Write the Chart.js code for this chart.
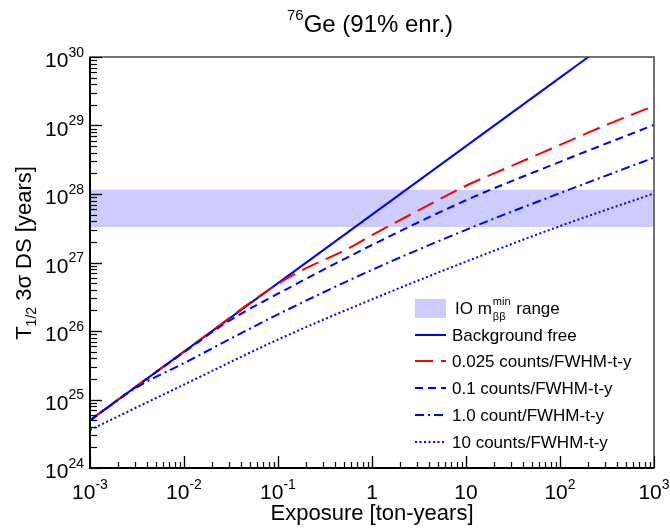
<!DOCTYPE html>
<html>
<head>
<meta charset="utf-8">
<script src="https://cdn.jsdelivr.net/npm/chart.js@4.4.1/dist/chart.umd.min.js"></script>
<style>
  html, body { margin: 0; padding: 0; background: #fff; }
  #wrap { width: 670px; height: 528px; }
</style>
</head>
<body>
<div id="wrap"><canvas id="chart" width="670" height="528"></canvas></div>
<script>
// exposure in ton-years, half-life sensitivity in years
const bgFreeX = [0.001, 0.01, 0.1, 1, 10, 100, 208];
const bgFreeY = [5.0e24, 5.0e25, 5.0e26, 5.0e27, 5.0e28, 5.0e29, 1.04e30];

const bg0025X = [0.001, 0.01, 0.1, 0.2, 0.5, 1, 3, 10, 30, 100, 300, 1000];
const bg0025Y = [5.0e24, 5.0e25, 4.9e26, 8.3e26, 1.48e27, 2.5e27, 5.6e27, 1.32e28, 2.55e28, 5.2e28, 1.0e29, 1.93e29];

const bg01X = [0.001, 0.01, 0.03, 0.1, 1, 10, 100, 1000];
const bg01Y = [5.0e24, 4.9e25, 1.4e26, 3.5e26, 1.8e27, 8.1e27, 2.95e28, 1.02e29];

const bg1X = [0.001, 0.003, 0.01, 0.1, 1, 10, 100, 1000];
const bg1Y = [4.9e24, 1.45e25, 3.4e25, 1.75e26, 7.8e26, 3.0e27, 1.03e28, 3.4e28];

const bg10X = [0.001, 0.01, 0.1, 1, 10, 100, 1000];
const bg10Y = [3.6e24, 1.65e25, 7.5e25, 2.9e26, 1.03e27, 3.4e27, 1.02e28];

// IO m_bb^min band
const bandLow = 3.3e27;
const bandHigh = 1.15e28;

const xTicks = [1e-3, 1e-2, 1e-1, 1, 10, 100, 1000];
const xTickLabels = [['10', '-3'], ['10', '-2'], ['10', '-1'], ['1', ''], ['10', ''], ['10', '2'], ['10', '3']];
const yTicks = [1e24, 1e25, 1e26, 1e27, 1e28, 1e29, 1e30];
const yTickLabels = [['10', '24'], ['10', '25'], ['10', '26'], ['10', '27'], ['10', '28'], ['10', '29'], ['10', '30']];

const seriesNames = ['Background free', '0.025 counts/FWHM-t-y', '0.1 counts/FWHM-t-y', '1.0 count/FWHM-t-y', '10 counts/FWHM-t-y'];

const FONT = '"Liberation Sans", Arial, Helvetica, sans-serif';
const BLUE = '#0000ff';
const RED = '#ff0000';
const BAND = 'rgb(204,204,255)';

function pts(xs, ys) {
  return xs.map((x, i) => ({ x: x, y: ys[i] }));
}

function line(label, xs, ys, color, dash, order) {
  return {
    label: label,
    data: pts(xs, ys),
    borderColor: color,
    borderWidth: 2,
    borderDash: dash,
    pointRadius: 0,
    fill: false,
    cubicInterpolationMode: 'monotone',
    order: order
  };
}

const datasets = [
  line(seriesNames[4], bg10X, bg10Y, BLUE, [2, 2.5], 1),
  line(seriesNames[3], bg1X, bg1Y, BLUE, [9, 4, 2, 4], 2),
  line(seriesNames[2], bg01X, bg01Y, BLUE, [8, 5], 3),
  line(seriesNames[1], bg0025X, bg0025Y, RED, [18, 8], 4),
  line(seriesNames[0], bgFreeX, bgFreeY, BLUE, [], 5),
  {
    label: 'band high',
    data: pts([1e-3, 1e3], [bandHigh, bandHigh]),
    borderWidth: 0,
    pointRadius: 0,
    backgroundColor: BAND,
    fill: '+1',
    order: 10
  },
  {
    label: 'band low',
    data: pts([1e-3, 1e3], [bandLow, bandLow]),
    borderWidth: 0,
    pointRadius: 0,
    fill: false,
    order: 11
  }
];

// text with a raised exponent
function powText(ctx, base, exp, x, y, size, align) {
  ctx.font = size + 'px ' + FONT;
  const bw = ctx.measureText(base).width;
  const es = Math.round(size * 0.68);
  ctx.font = es + 'px ' + FONT;
  const ew = exp ? ctx.measureText(exp).width : 0;
  const total = bw + ew;
  let x0 = x;
  if (align === 'center') x0 = x - total / 2;
  if (align === 'right') x0 = x - total;
  ctx.textAlign = 'left';
  ctx.textBaseline = 'alphabetic';
  ctx.font = size + 'px ' + FONT;
  ctx.fillText(base, x0, y);
  if (exp) {
    ctx.font = es + 'px ' + FONT;
    ctx.fillText(exp, x0 + bw, y - size * 0.5);
  }
}

const rootStyle = {
  id: 'rootStyle',
  afterDatasetsDraw(chart) {
    const ctx = chart.ctx;
    const a = chart.chartArea;
    const xs = chart.scales.x;
    const ys = chart.scales.y;
    ctx.save();

    // frame
    ctx.strokeStyle = '#444';
    ctx.lineWidth = 1.5;
    ctx.strokeRect(a.left, a.top, a.right - a.left, a.bottom - a.top);
    ctx.strokeStyle = '#000';
    ctx.lineWidth = 2;
    ctx.beginPath();
    ctx.moveTo(a.left, a.top);
    ctx.lineTo(a.left, a.bottom);
    ctx.lineTo(a.right, a.bottom);
    ctx.stroke();

    // ticks, inward
    ctx.lineWidth = 1.2;
    for (let d = -3; d < 3; d++) {
      for (let m = 1; m <= 10; m++) {
        const v = m * Math.pow(10, d);
        const px = Math.round(xs.getPixelForValue(v)) + 0.5;
        const len = (m === 1 || m === 10) ? 12 : 6;
        ctx.beginPath();
        ctx.moveTo(px, a.bottom);
        ctx.lineTo(px, a.bottom - len);
        ctx.stroke();
      }
    }
    for (let d = 24; d < 30; d++) {
      for (let m = 1; m <= 10; m++) {
        const v = m * Math.pow(10, d);
        const py = Math.round(ys.getPixelForValue(v)) + 0.5;
        const len = (m === 1 || m === 10) ? 12 : 7;
        ctx.beginPath();
        ctx.moveTo(a.left, py);
        ctx.lineTo(a.left + len, py);
        ctx.stroke();
      }
    }

    // tick labels
    ctx.fillStyle = '#000';
    xTicks.forEach((v, i) => {
      const px = xs.getPixelForValue(v);
      powText(ctx, xTickLabels[i][0], xTickLabels[i][1], px, a.bottom + 31, 21, 'center');
    });
    yTicks.forEach((v, i) => {
      const py = ys.getPixelForValue(v);
      powText(ctx, yTickLabels[i][0], yTickLabels[i][1], a.left - 6, py + 10, 21, 'right');
    });

    // axis titles
    ctx.font = '22px ' + FONT;
    ctx.textAlign = 'center';
    ctx.textBaseline = 'alphabetic';
    ctx.fillText('Exposure [ton-years]', (a.left + a.right) / 2, 520);

    ctx.save();
    ctx.translate(31, 253);
    ctx.rotate(-Math.PI / 2);
    ctx.font = '22px ' + FONT;
    const tW = ctx.measureText('T').width;
    ctx.font = '14px ' + FONT;
    const sW = ctx.measureText('1/2').width;
    ctx.font = '22px ' + FONT;
    const rest = ' 3\u03c3 DS [years]';
    const rW = ctx.measureText(rest).width;
    let x0 = -(tW + sW + rW) / 2;
    ctx.textAlign = 'left';
    ctx.fillText('T', x0, 0);
    ctx.font = '14px ' + FONT;
    ctx.fillText('1/2', x0 + tW, 5);
    ctx.font = '22px ' + FONT;
    ctx.fillText(rest, x0 + tW + sW, 0);
    ctx.restore();

    // title
    ctx.textAlign = 'left';
    ctx.font = '15px ' + FONT;
    const supW = ctx.measureText('76').width;
    ctx.font = '24px ' + FONT;
    const gW = ctx.measureText('Ge (91% enr.)').width;
    const tx = 370 - (supW + gW) / 2;
    ctx.font = '15px ' + FONT;
    ctx.fillText('76', tx, 20);
    ctx.font = '24px ' + FONT;
    ctx.fillText('Ge (91% enr.)', tx + supW, 32);

    // legend
    const lx0 = 415, lx1 = 446, tx0 = 452;
    ctx.fillStyle = BAND;
    ctx.fillRect(lx0, 299, lx1 - lx0, 19);
    ctx.fillStyle = '#000';
    ctx.font = '17px ' + FONT;
    let cx = 455;
    ctx.fillText('IO m', cx, 314);
    cx += ctx.measureText('IO m').width + 1;
    ctx.font = '11px ' + FONT;
    ctx.fillText('min', cx, 305);
    const minW = ctx.measureText('min').width;
    ctx.fillText('\u03b2\u03b2', cx, 320);
    const bbW = ctx.measureText('\u03b2\u03b2').width;
    cx += Math.max(minW, bbW) + 1;
    ctx.font = '17px ' + FONT;
    ctx.fillText(' range', cx, 314);

    const legendLines = [datasets[4], datasets[3], datasets[2], datasets[1], datasets[0]];
    const rowY = [335, 361, 388, 415, 442];
    legendLines.forEach((ds, i) => {
      ctx.strokeStyle = ds.borderColor;
      ctx.lineWidth = 2;
      ctx.setLineDash(ds.borderDash);
      ctx.beginPath();
      ctx.moveTo(lx0, rowY[i]);
      ctx.lineTo(lx1, rowY[i]);
      ctx.stroke();
      ctx.setLineDash([]);
      ctx.fillStyle = '#000';
      ctx.font = '17px ' + FONT;
      ctx.fillText(seriesNames[i], tx0, rowY[i] + 6);
    });

    ctx.restore();
  }
};

new Chart(document.getElementById('chart'), {
  type: 'line',
  data: { datasets: datasets },
  options: {
    responsive: false,
    animation: false,
    layout: { padding: { left: 90, top: 57, right: 16, bottom: 60 } },
    plugins: {
      legend: { display: false },
      tooltip: { enabled: false },
      filler: { propagate: false }
    },
    scales: {
      x: { type: 'logarithmic', min: 1e-3, max: 1e3, display: false },
      y: { type: 'logarithmic', min: 1e24, max: 1e30, display: false }
    }
  },
  plugins: [rootStyle]
});
</script>
</body>
</html>
